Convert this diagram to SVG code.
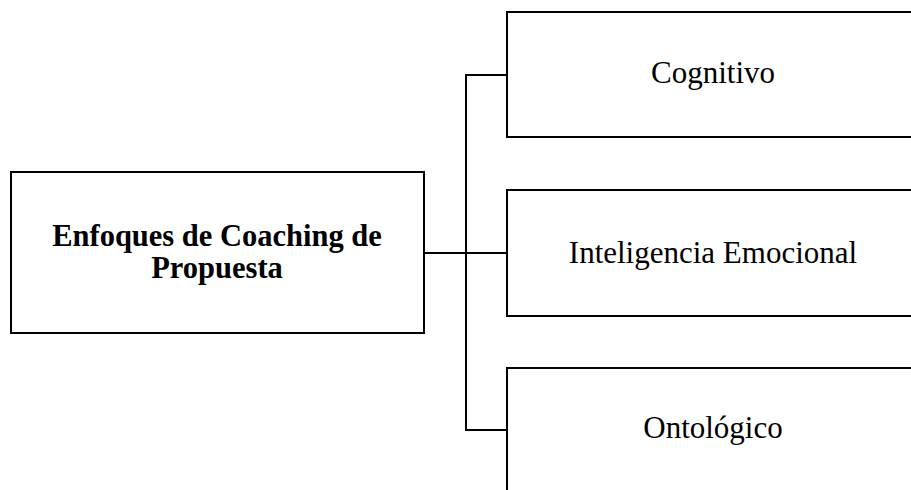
<svg xmlns="http://www.w3.org/2000/svg" width="911" height="490" viewBox="0 0 911 490">
  <style>
    .box { fill: #ffffff; stroke: #000000; stroke-width: 2; }
    .link { fill: none; stroke: #000000; stroke-width: 2; }
    .label { font-family: "Liberation Serif", "Times New Roman", serif; font-size: 31px; fill: #000000; text-anchor: middle; }
    .title { font-weight: bold; font-size: 30.5px; }
  </style>
  <rect width="911" height="490" fill="#ffffff"/>

  <g id="connectors">
    <path class="link" d="M424 253 H507"/>
    <path class="link" d="M507 75 H466 V430 H507"/>
  </g>

  <g id="root">
    <rect class="box" x="11" y="172" width="413" height="161"/>
    <text class="label title" x="217" y="246">Enfoques de Coaching de</text>
    <text class="label title" x="217" y="278">Propuesta</text>
  </g>

  <g id="cognitivo">
    <rect class="box" x="507" y="12" width="412" height="125"/>
    <text class="label" x="713" y="83">Cognitivo</text>
  </g>

  <g id="inteligencia-emocional">
    <rect class="box" x="507" y="190" width="412" height="126"/>
    <text class="label" x="713" y="263">Inteligencia Emocional</text>
  </g>

  <g id="ontologico">
    <rect class="box" x="507" y="368" width="412" height="126"/>
    <text class="label" x="713" y="438">Ontológico</text>
  </g>
</svg>
